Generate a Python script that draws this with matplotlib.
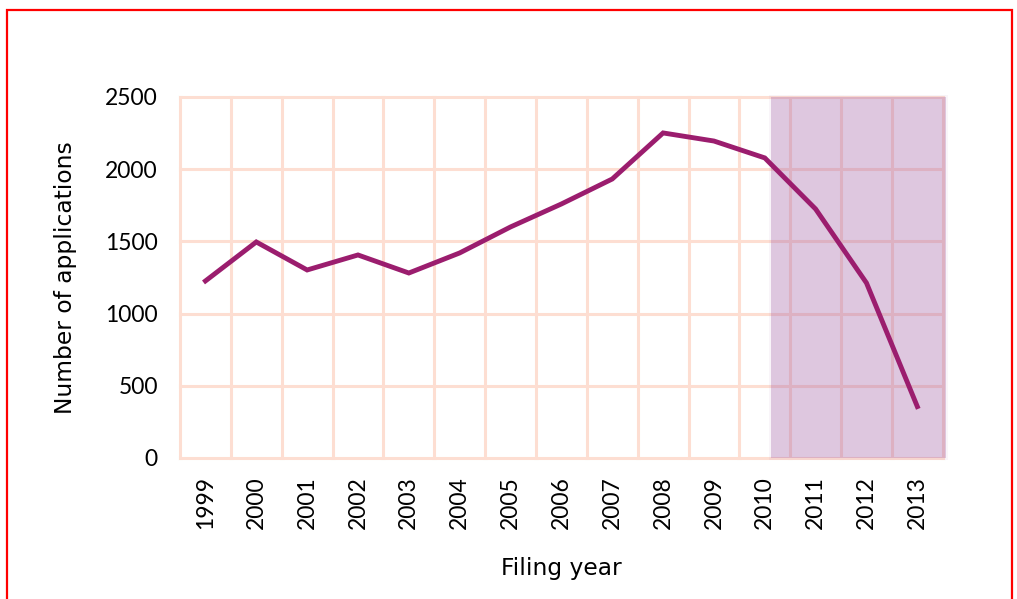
import matplotlib
matplotlib.use("Agg")
import matplotlib.pyplot as plt
from matplotlib.patches import Rectangle

years = ["1999", "2000", "2001", "2002", "2003", "2004", "2005", "2006",
         "2007", "2008", "2009", "2010", "2011", "2012", "2013"]
applications = [1226, 1496, 1302, 1406, 1281, 1420, 1600, 1759,
                1932, 2251, 2195, 2078, 1724, 1212, 356]
y_ticks = [0, 500, 1000, 1500, 2000, 2500]
shade_start, shade_end = 11.13, 14.57  # incomplete-data window (x index units)

line_color = "#9B1D6E"
grid_color = "#FDDED2"

fig = plt.figure(figsize=(10.17, 5.99), dpi=100)
ax = fig.add_axes([0.177, 0.2354, 0.750, 0.6027])

x = list(range(len(years)))
ax.plot(x, applications, color=line_color, linewidth=3.5, zorder=4,
        solid_joinstyle="miter")

# soft edge around the shaded window, then the window itself
ax.axvspan(shade_start - 0.04, shade_end + 0.04, ymin=-0.006, ymax=1.006,
           color=(0.63, 0.37, 0.65), alpha=0.06, linewidth=0, zorder=3,
           clip_on=False)
ax.axvspan(shade_start, shade_end, color=(0.63, 0.37, 0.65), alpha=0.3,
           linewidth=0, zorder=3, clip_on=False)

# grid: vertical lines between categories, horizontal at y ticks
for i in range(len(years) + 1):
    ax.axvline(i - 0.5, color=grid_color, linewidth=2.2, zorder=1,
               clip_on=False)
for v in y_ticks:
    ax.axhline(v, color=grid_color, linewidth=2.2, zorder=1, clip_on=False)

ax.set_xlim(-0.5, len(years) - 0.5)
ax.set_ylim(0, 2500)
ax.set_xticks(x)
ax.set_xticklabels(years, rotation=90, fontsize=16.5, family="Lato")
ax.set_yticks(y_ticks)
ax.set_yticklabels([str(v) for v in y_ticks], fontsize=16.5, family="Lato")
ax.tick_params(axis="both", length=0)
ax.tick_params(axis="x", pad=13)
ax.tick_params(axis="y", pad=16)
for s in ax.spines.values():
    s.set_visible(False)

ax.set_xlabel("Filing year", fontsize=16.8, family="DejaVu Sans", labelpad=20)
ax.set_ylabel("Number of applications", fontsize=16.8, family="DejaVu Sans",
              labelpad=20)

fig.patches.append(Rectangle((7 / 1017, -0.1), 1005 / 1017, 1.1 - 10 / 599,
                             transform=fig.transFigure, fill=False,
                             edgecolor="red", linewidth=1.6))

fig.savefig("out.png", dpi=100)
